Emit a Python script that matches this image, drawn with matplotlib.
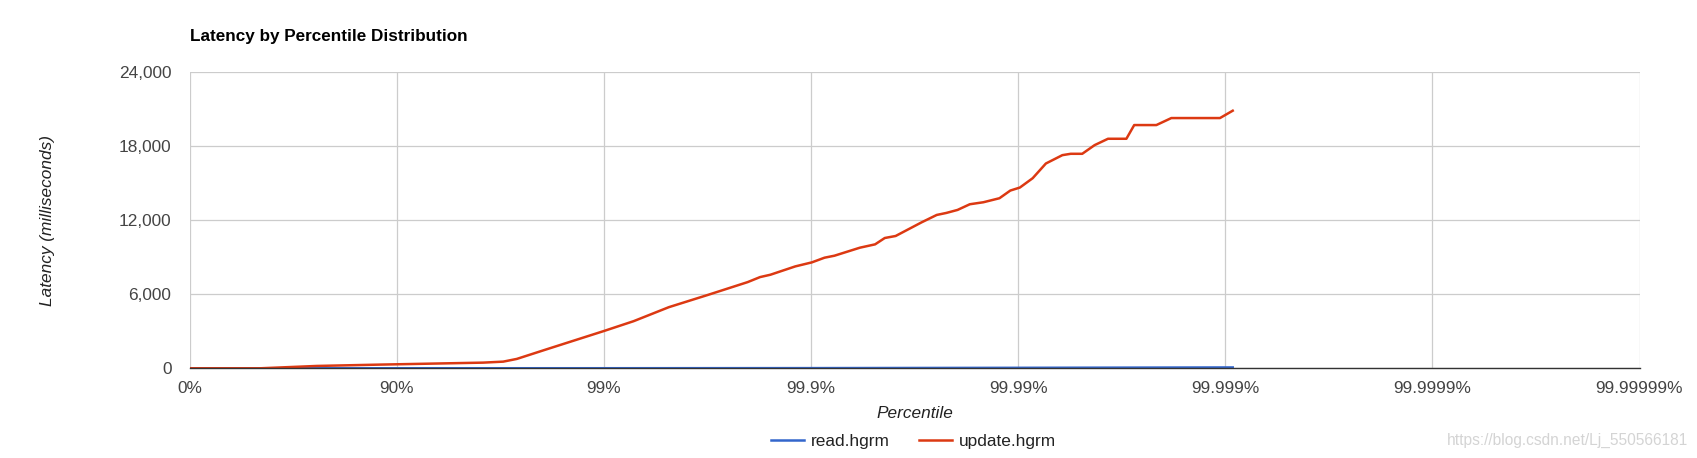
import matplotlib
matplotlib.use("Agg")
import matplotlib.pyplot as plt
from matplotlib.ticker import FixedLocator, NullLocator, FuncFormatter
import numpy as np

# percentile (%) and latency (ms)
update_pct = [0, 54.3, 75.7, 88.0, 90.0, 96.18, 96.94, 97.37, 98.12, 99.0,
              99.282, 99.515, 99.687, 99.798, 99.824, 99.843, 99.881, 99.901,
              99.914, 99.923, 99.942, 99.951, 99.956, 99.961, 99.9708, 99.9753,
              99.9778, 99.9804, 99.9829, 99.9853, 99.9877, 99.9891, 99.9902,
              99.9915, 99.99266, 99.99389, 99.99443, 99.9951, 99.99573,
              99.99632, 99.9970, 99.99725, 99.99785, 99.99818, 99.99894, 99.99908]
update_ms = [0, 0, 190, 300, 325, 460, 540, 760, 1550, 3020,
             3820, 4957, 5960, 6989, 7396, 7585, 8262, 8588,
             8967, 9129, 9780, 10050, 10565, 10728, 11838, 12434,
             12597, 12841, 13301, 13464, 13789, 14412, 14656,
             15414, 16606, 17283, 17392, 17392, 18096,
             18611, 18611, 19722, 19722, 20290, 20290, 20886]

read_pct = [0, 90.0, 99.0, 99.9, 99.99, 99.99908]
read_ms = [0, 3, 6, 15, 40, 70]

tick_labels = ["0%", "90%", "99%", "99.9%", "99.99%", "99.999%", "99.9999%", "99.99999%"]
y_ticks = [0, 6000, 12000, 18000, 24000]

plt.rcParams['font.family'] = ['Liberation Sans', 'DejaVu Sans']

def inv(pct):
  p = np.array(pct) / 100.0
  return 1.0 / (1.0 - p)

W, H = 1697, 458
fig = plt.figure(figsize=(W/100, H/100), dpi=100)
ax = fig.add_axes([189.5/W, 1-368.3/H, (1639.5-189.5)/W, (368.3-72.3)/H])

ax.plot(inv(read_pct), read_ms, color='#3366cc', lw=1.8, label='read.hgrm', zorder=3)
ax.plot(inv(update_pct), update_ms, color='#dc3912', lw=1.8, label='update.hgrm', zorder=3)

ax.set_xscale('log')
ax.set_xlim(1, 1e7)
ax.set_ylim(0, 24000)
ax.xaxis.set_major_locator(FixedLocator([10.0**i for i in range(len(tick_labels))]))
ax.xaxis.set_minor_locator(NullLocator())
ax.xaxis.set_major_formatter(FuncFormatter(lambda v, pos: tick_labels[int(round(np.log10(v)))]))
ax.set_yticks(y_ticks)
ax.yaxis.set_major_formatter(FuncFormatter(lambda v, pos: "{:,}".format(int(v))))

ax.grid(True, color='#cccccc', lw=0.9, zorder=0)
for s in ['top', 'left', 'right']:
  ax.spines[s].set_visible(False)
ax.spines['bottom'].set_color('#333333')
ax.spines['bottom'].set_linewidth(1.0)
ax.spines['bottom'].set_zorder(4)
ax.tick_params(axis='both', length=0, labelsize=12.4, labelcolor='#444444')
ax.tick_params(axis='x', pad=9)
ax.tick_params(axis='y', pad=13)

fig.text(189.5/W, 1-36.5/H, "Latency by Percentile Distribution", fontsize=12.3,
         fontweight='bold', color='#000000', ha='left', va='center')
fig.text(48/W, 1-220.3/H, "Latency (milliseconds)", fontsize=12.4, style='italic',
         color='#222222', rotation=90, ha='center', va='center')
fig.text(914.5/W, 1-413.5/H, "Percentile", fontsize=12.4, style='italic',
         color='#222222', ha='center', va='center')

fig.legend(loc='center', bbox_to_anchor=(913.5/W, 1-441.6/H), ncol=2, frameon=False,
           fontsize=12.4, handlelength=1.95, handletextpad=0.4, columnspacing=1.65,
           labelcolor='#222222')

fig.text(1688/W, 1-440.5/H, "https://blog.csdn.net/Lj_550566181", fontsize=11.2,
         color='#d4d4d4', ha='right', va='center')

plt.savefig("out.png", dpi=100)
